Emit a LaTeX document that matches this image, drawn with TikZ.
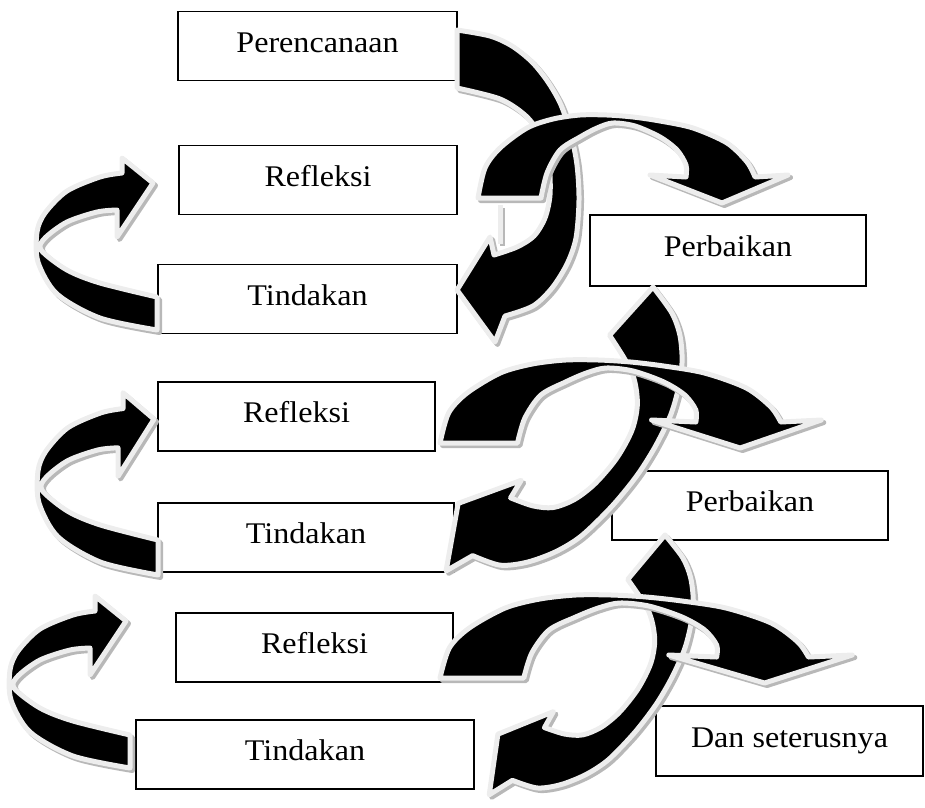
\documentclass[tikz,border=0pt]{standalone}
\usepackage{fontspec}
\setmainfont{Liberation Serif}
\usepackage{graphicx}
\newcommand{\boxLabel}[1]{\scalebox{1.07}[1]{#1}}
%% Left loop arrow, origin at the lower corner of its tail.
\newcommand{\loopShape}{%%
  plot[smooth] coordinates {(0,0) (-57,-12) (-100,-36) (-119,-68) (-120,-98)
    (-112,-117) (-90,-139) (-57,-153) (-35,-157)}
  -- (-35,-172) -- (-4,-147) -- (-40,-93)
  -- plot[smooth] coordinates {(-40,-120) (-60,-118) (-90,-108) (-112,-92)
    (-116,-80) (-90,-60) (-57,-47) (0,-33)}
  -- cycle}
%% Arrow bending down on the right, origin at the top corner of its tail.
\newcommand{\downShape}{%%
  plot[smooth] coordinates {(0,0) (33,6) (55,16) (75,32) (91,52) (104,75)
    (114,105) (120,135) (122,170) (119,208) (110,234) (95,258) (76,276) (48,286)}
  -- (38,312) -- (0,260) -- (33,207)
  -- plot[smooth] coordinates {(37,225) (60,217) (77,206) (88,188) (93,165)
    (92,135) (84,107) (69,86) (43,69) (0,58)}
  -- cycle}
%% Arrow going up and over, origin at the outer corner of its tail.
\newcommand{\overShape}{%%
  plot[smooth] coordinates {(0,0) (7,-30) (22,-50) (49,-70) (75,-79) (102,-83)
    (129,-83) (155,-81) (182,-77) (215,-70) (249,-55) (269,-36) (277,-21)}
  -- (310,-23) -- (244,5) -- (172,-23)
  -- plot[smooth] coordinates {(208,-21) (208,-33) (199,-48) (182,-61) (157,-72)
    (135,-75) (119,-70) (102,-61) (82,-48) (69,-25) (63,0)}
  -- cycle}
%% Draw one band arrow with its grey rim and shadow.
\newcommand{\drawBand}[2]{%%
  \begin{scope}[shift={(2.5,2.5)},#1]
    \path[shadowStyle] #2;
  \end{scope}
  \begin{scope}[#1]
    \path[arrowStyle] #2;
  \end{scope}
}

\begin{document}
\begin{tikzpicture}[%%
  x=1pt,y=-1pt,
  boxStyle/.style={draw,line width=1.4pt,fill=white,inner sep=0pt,
    minimum height=69pt,text height=20pt,text depth=8pt,
    font=\fontsize{30}{32}\selectfont},
  arrowStyle/.style={fill=black,draw=black!7,line width=5pt,line join=round},
  shadowStyle/.style={draw=black!28,line width=5pt,line join=round}
]
\useasboundingbox (0,0) rectangle (925,807);
%%
%% The boxes.
\node[boxStyle,minimum width=279pt] (plan) at (317.5,46) {\boxLabel{Perencanaan}};
\node[boxStyle,minimum width=278pt] (reflectA) at (318,180) {\boxLabel{Refleksi}};
\node[boxStyle,minimum width=299pt] (actA) at (307.5,299) {\boxLabel{Tindakan}};
\node[boxStyle,minimum width=276pt,minimum height=71pt] (fixA) at (728,250.5) {\boxLabel{Perbaikan}};
\node[boxStyle,minimum width=277pt] (reflectB) at (296.5,416.5) {\boxLabel{Refleksi}};
\node[boxStyle,minimum width=296pt] (actB) at (306,537.5) {\boxLabel{Tindakan}};
\node[boxStyle,minimum width=276pt] (fixB) at (750,505.5) {\boxLabel{Perbaikan}};
\node[boxStyle,minimum width=277pt] (reflectC) at (314.5,647.5) {\boxLabel{Refleksi}};
\node[boxStyle,minimum width=338pt] (actC) at (305,754.5) {\boxLabel{Tindakan}};
\node[boxStyle,minimum width=267pt,minimum height=70pt] (onward) at (789.5,741) {\boxLabel{Dan seterusnya}};
%%
%% First round.
\drawBand{shift={(157,330)}}{\loopShape}
\draw[draw=black!28,line width=5pt] (502.5,208) -- (502.5,246);
\draw[draw=black!7,line width=5pt] (500,205) -- (500,244);
\drawBand{shift={(457,30)}}{\downShape}
\drawBand{shift={(478,198)}}{\overShape}
%%
%% Second round.
\drawBand{shift={(158,575)},yscale=1.06}{\loopShape}
\drawBand{shift={(653,287)},rotate=-42,scale=1.12,xscale=0.85}{\downShape}
\drawBand{shift={(440,443)},xscale=1.23}{\overShape}
%%
%% Third round.
\drawBand{shift={(130,768)}}{\loopShape}
\drawBand{shift={(665,535)},rotate=-40,xscale=0.85}{\downShape}
\drawBand{shift={(440,678)},xscale=1.33}{\overShape}
\end{tikzpicture}
\end{document}
